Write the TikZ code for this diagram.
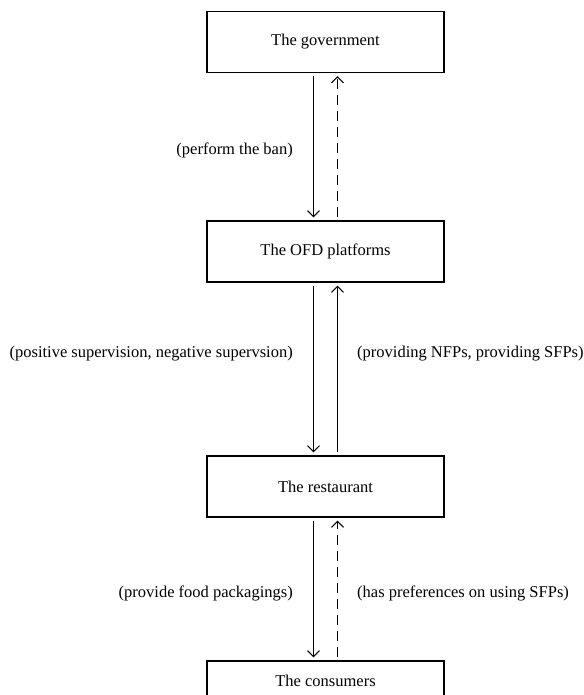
\documentclass[tikz,border=0pt]{standalone}
\usepackage{fontspec}
\setmainfont{Liberation Serif}
\usetikzlibrary{arrows.meta}
\begin{document}
\begin{tikzpicture}[x=1pt,y=1pt,
  box/.style={draw, line width=1.3pt, minimum width=237pt, minimum height=61pt, inner sep=0pt, font=\fontsize{16.5}{20}\selectfont},
  lbl/.style={font=\fontsize{16.5}{20}\selectfont, inner sep=0pt},
  conn/.style={line width=1pt, -{Straight Barb[length=6pt,width=12pt]}, shorten <=3pt, shorten >=3pt},
  dashconn/.style={conn, dash pattern=on 10pt off 6pt}
]
\clip (0,0) rectangle (583,-695);
\fill[white] (0,0) rectangle (583,-695);
\node[box] (gov) at (325.5,-42) {The government};
\node[box] (ofd) at (325.5,-251.5) {The OFD platforms};
\node[box] (rest) at (325.5,-486.5) {The restaurant};
\node[box, minimum height=40pt] (cons) at (325.5,-681) {The consumers};
\node[lbl, anchor=east] (l1) at (293,-150) {(perform the ban)};
\node[lbl, anchor=east] (l2) at (293,-354) {(positive supervision, negative supervsion)};
\node[lbl, anchor=west] (r2) at (357,-354) {(providing NFPs, providing SFPs)};
\node[lbl, anchor=east] (l3) at (293,-593) {(provide food packagings)};
\node[lbl, anchor=west] (r3) at (357,-593) {(has preferences on using SFPs)};
\draw[conn] ([xshift=-12pt]gov.south) -- ([xshift=-12pt]ofd.north);
\draw[dashconn] ([xshift=12pt]ofd.north) -- ([xshift=12pt]gov.south);
\draw[conn] ([xshift=-12pt]ofd.south) -- ([xshift=-12pt]rest.north);
\draw[conn] ([xshift=12pt]rest.north) -- ([xshift=12pt]ofd.south);
\draw[conn] ([xshift=-12pt]rest.south) -- ([xshift=-12pt]cons.north);
\draw[dashconn] ([xshift=12pt]cons.north) -- ([xshift=12pt]rest.south);
\end{tikzpicture}
\end{document}
